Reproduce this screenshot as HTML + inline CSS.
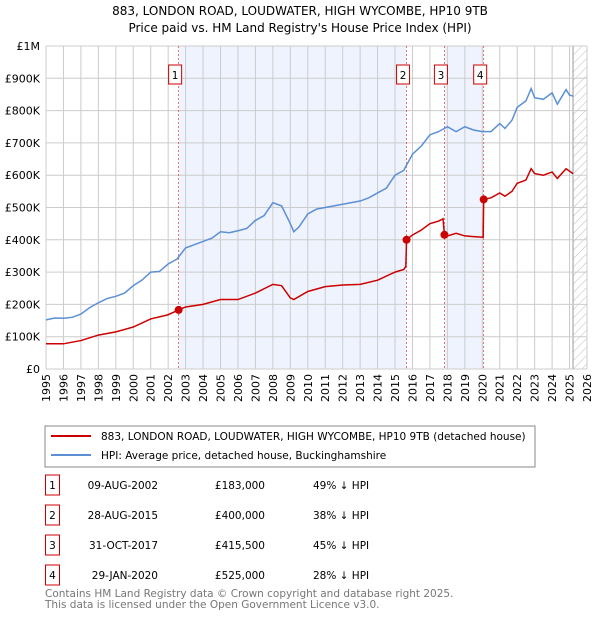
<!DOCTYPE html>
<html><head><meta charset="utf-8"><style>
body{margin:0;background:#fff;font-family:"Liberation Sans","DejaVu Sans",sans-serif;}
svg{display:block}
</style></head><body>
<svg id="c" width="600" height="620" xmlns="http://www.w3.org/2000/svg" font-family="DejaVu Sans, Liberation Sans, sans-serif">
<text x="300" y="15" text-anchor="middle" font-size="12">883, LONDON ROAD, LOUDWATER, HIGH WYCOMBE, HP10 9TB</text>
<text x="300" y="32" text-anchor="middle" font-size="12">Price paid vs. HM Land Registry's House Price Index (HPI)</text>
<g id="plot"></g>
<rect x="45" y="426" width="490" height="41" fill="#fff" stroke="#888"/>
<line x1="51" y1="436" x2="91" y2="436" stroke="#cc0000" stroke-width="2"/>
<text x="101" y="440" font-size="10.5">883, LONDON ROAD, LOUDWATER, HIGH WYCOMBE, HP10 9TB (detached house)</text>
<line x1="51" y1="455" x2="91" y2="455" stroke="#5b8fd6" stroke-width="2"/>
<text x="101" y="459" font-size="10.5">HPI: Average price, detached house, Buckinghamshire</text>
<g id="table" font-size="10.5"></g>
<text x="45" y="597" font-size="10.5" fill="#777">Contains HM Land Registry data © Crown copyright and database right 2025.</text>
<text x="45" y="608" font-size="10.5" fill="#777">This data is licensed under the Open Government Licence v3.0.</text>
</svg>
<script>
const hpiYears=[1995,1995.5,1996,1996.5,1997,1997.5,1998,1998.5,1999,1999.5,2000,2000.5,2001,2001.5,2002,2002.5,2003,2003.5,2004,2004.5,2005,2005.5,2006,2006.5,2007,2007.5,2008,2008.5,2009,2009.2,2009.5,2010,2010.5,2011,2011.5,2012,2012.5,2013,2013.5,2014,2014.5,2015,2015.5,2016,2016.5,2017,2017.5,2018,2018.5,2019,2019.5,2020,2020.5,2021,2021.3,2021.7,2022,2022.5,2022.8,2023,2023.5,2024,2024.3,2024.8,2025,2025.2];
const hpiValues=[152,158,157,160,170,190,205,218,225,235,258,275,300,302,325,340,375,385,395,405,425,422,428,435,460,475,515,505,450,425,440,480,495,500,505,510,515,520,530,545,560,600,615,665,690,725,735,750,735,750,740,735,735,760,745,770,810,830,868,840,835,855,820,865,848,845];
const priceYears=[1995,1996,1997,1998,1999,2000,2001,2002,2002.6,2003,2004,2005,2006,2007,2008,2008.5,2009,2009.2,2010,2011,2012,2013,2014,2015,2015.5,2015.62,2015.66,2016,2016.5,2017,2017.5,2017.75,2017.83,2018,2018.5,2019,2019.5,2020.05,2020.08,2020.5,2021,2021.3,2021.7,2022,2022.5,2022.8,2023,2023.5,2024,2024.3,2024.8,2025.2];
const priceValues=[78,78,88,105,115,130,155,168,183,192,200,215,215,235,262,258,220,215,240,255,260,262,275,300,308,318,400,415,430,450,458,465,415,412,420,412,410,408,525,530,545,535,550,575,585,620,605,600,610,590,620,605];
const saleLabels=["1","2","3","4"];
const saleDates=[2002.6,2015.66,2017.83,2020.08];
const salePrices=[183,400,415.5,525];
const saleDateText=["09-AUG-2002","28-AUG-2015","31-OCT-2017","29-JAN-2020"];
const salePriceText=["£183,000","£400,000","£415,500","£525,000"];
const saleHpiText=["49% ↓ HPI","38% ↓ HPI","45% ↓ HPI","28% ↓ HPI"];
const yTicks=[0,100,200,300,400,500,600,700,800,900,1000];
const yTickLabels=["£0","£100K","£200K","£300K","£400K","£500K","£600K","£700K","£800K","£900K","£1M"];
const xTicks=[1995,1996,1997,1998,1999,2000,2001,2002,2003,2004,2005,2006,2007,2008,2009,2010,2011,2012,2013,2014,2015,2016,2017,2018,2019,2020,2021,2022,2023,2024,2025,2026];

const NS="http://www.w3.org/2000/svg";
const L=46,R=587,T=46,B=369;
const xs=y=>L+(y-1995)/(2026-1995)*(R-L);
const ys=v=>B-v/1000*(B-T);
const g=document.getElementById('plot');
function mk(tag,attrs,parent){const e=document.createElementNS(NS,tag);for(const k in attrs)e.setAttribute(k,attrs[k]);(parent||g).appendChild(e);return e;}
let e;
e=mk('rect',{x:L,y:T,width:R-L,height:B-T,fill:'#fff'});


[[0,1],[2,3]].forEach(p=>{
 e=mk('rect',{x:xs(saleDates[p[0]]),y:T,width:xs(saleDates[p[1]])-xs(saleDates[p[0]]),height:B-T,fill:'#eef3fd'});
 
 
});
const defs=mk('defs',{});
const pat=mk('pattern',{id:'h',width:6,height:6,patternUnits:'userSpaceOnUse',patternTransform:'rotate(45)'},defs);
mk('line',{x1:0,y1:0,x2:0,y2:6,stroke:'#bbb','stroke-width':1},pat);
e=mk('rect',{x:xs(2025.2),y:T,width:R-xs(2025.2),height:B-T,fill:'url(#h)'});


e=mk('line',{x1:xs(2025.2),y1:T,x2:xs(2025.2),y2:B,stroke:'#999'});


xTicks.forEach((t,i)=>{
 e=mk('line',{x1:xs(t),y1:T,x2:xs(t),y2:B,stroke:'#ccc'});
 
 
 const x=xs(t),y=B+5;
 e=mk('text',{x:x+4,y:y,'font-size':11,'text-anchor':'end',transform:`rotate(-90 ${x+4} ${y})`});
 e.textContent=t;
 
 
});
yTicks.forEach((t,i)=>{
 e=mk('line',{x1:L,y1:ys(t),x2:R,y2:ys(t),stroke:'#ccc'});
 
 
 e=mk('text',{x:L-6,y:ys(t)+4,'font-size':11,'text-anchor':'end'});
 e.textContent=yTickLabels[i];
 
 
});
saleDates.forEach((d,i)=>{
 e=mk('line',{x1:xs(d),y1:T,x2:xs(d),y2:B,stroke:'#e05050','stroke-dasharray':'2,2','stroke-width':0.8});
 
 
 e=mk('rect',{x:xs(d)-10,y:65,width:13,height:19,fill:'#fff',stroke:'#cc0000'});
 
 
 e=mk('text',{x:xs(d)-3.5,y:79,'font-size':10.5,'text-anchor':'middle'});
 e.textContent=saleLabels[i];
 
 
});
e=mk('polyline',{points:hpiYears.map((y,i)=>xs(y)+','+ys(hpiValues[i])).join(' '),fill:'none',stroke:'#5b8fd6','stroke-width':1.5});


e=mk('polyline',{points:priceYears.map((y,i)=>xs(y)+','+ys(priceValues[i])).join(' '),fill:'none',stroke:'#cc0000','stroke-width':1.5});


saleDates.forEach((d,i)=>{
 e=mk('circle',{cx:xs(d),cy:ys(salePrices[i]),r:4,fill:'#cc0000'});
 
 
});
const tb=document.getElementById('table');
saleLabels.forEach((l,i)=>{
 const cy=485+i*30;
 e=mk('rect',{x:45.5,y:cy-10,width:14,height:20,fill:'#fff',stroke:'#cc0000'},tb);
 
 
 [[52.5,l,'middle'],[158,saleDateText[i],'end'],[265,salePriceText[i],'end'],[313,saleHpiText[i],'start']].forEach(c=>{
  e=mk('text',{x:c[0],y:cy+4,'text-anchor':c[2]},tb);
  e.textContent=c[1];
  
  
 });
});
</script>
</body></html>
